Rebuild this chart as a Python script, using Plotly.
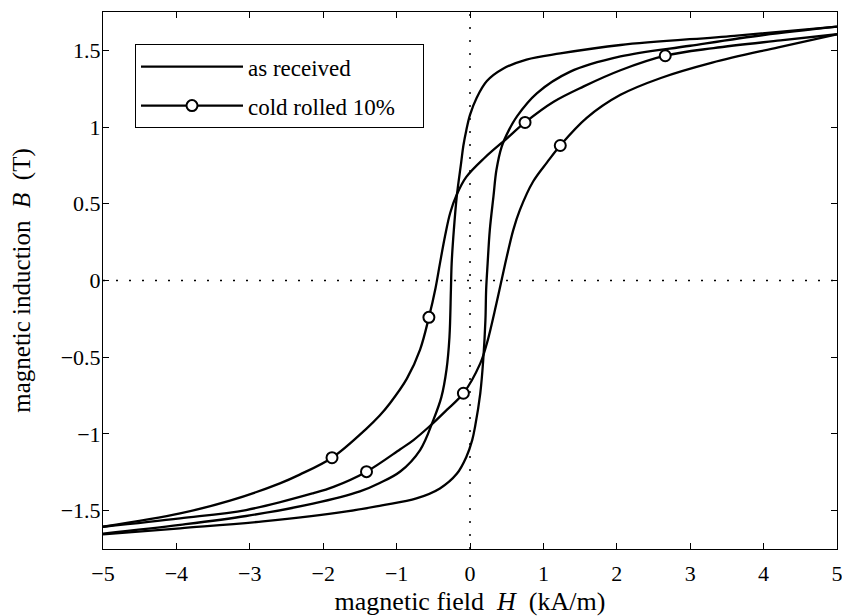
import plotly.graph_objects as go

# ---------------- data ----------------
# as received: descending branch (H from +5 to -5)
ar_desc_H = [5.0, 3.6, 2.05, 1.23, 0.77, 0.45, 0.23, 0.09, 0.0, -0.05, -0.09, -0.12,
             -0.18, -0.22, -0.25, -0.26, -0.28, -0.32, -0.39, -0.5, -0.68, -0.95,
             -1.23, -1.5, -2.14, -3.05, -3.95, -5.0]
ar_desc_B = [1.655, 1.595, 1.535, 1.48, 1.44, 1.38, 1.30, 1.19, 1.08, 0.98, 0.88, 0.77,
             0.55, 0.33, 0.11, -0.06, -0.37, -0.58, -0.76, -0.91, -1.105, -1.245,
             -1.32, -1.375, -1.455, -1.535, -1.593, -1.65]

# as received: ascending branch (H from -5 to +5)
ar_asc_H = [-5.0, -3.95, -2.82, -1.68, -1.2, -0.73, -0.41, -0.18, -0.05, 0.03, 0.07,
            0.14, 0.18, 0.21, 0.22, 0.24, 0.27, 0.32, 0.36, 0.43, 0.53, 0.64, 0.91,
            1.36, 2.05, 3.0, 4.0, 5.0]
ar_asc_B = [-1.655, -1.615, -1.57, -1.505, -1.465, -1.42, -1.355, -1.26, -1.15, -1.04,
            -0.95, -0.735, -0.52, -0.26, -0.06, 0.11, 0.33, 0.55, 0.72, 0.87, 0.98,
            1.07, 1.22, 1.36, 1.46, 1.53, 1.60, 1.655]

# cold rolled 10%: descending branch (H from +5 to -5)
cr_desc_H = [5.0, 4.23, 3.32, 2.66, 2.05, 1.55, 1.14, 0.75, 0.5, 0.2, -0.05, -0.18,
             -0.27, -0.34, -0.41, -0.47, -0.56, -0.68, -0.86, -1.09, -1.23, -1.41,
             -1.88, -2.32, -2.59, -3.27, -3.95, -5.0]
cr_desc_B = [1.605, 1.565, 1.515, 1.465, 1.37, 1.265, 1.165, 1.03, 0.925, 0.80, 0.675, 0.56,
             0.44, 0.29, 0.11, -0.05, -0.24, -0.45, -0.64, -0.80, -0.88, -0.965,
             -1.155, -1.265, -1.322, -1.435, -1.518, -1.605]

# cold rolled 10%: ascending branch (H from -5 to +5)
cr_asc_H = [-5.0, -3.95, -3.05, -2.14, -1.86, -1.41, -0.95, -0.77, -0.55, -0.32, -0.09,
            0.14, 0.23, 0.36, 0.48, 0.59, 0.68, 0.86, 1.05, 1.23, 1.59, 2.05, 2.6, 3.3,
            4.2, 5.0]
cr_asc_B = [-1.605, -1.55, -1.496, -1.387, -1.345, -1.246, -1.10, -1.04, -0.95, -0.845,
            -0.735, -0.54, -0.41, -0.15, 0.11, 0.33, 0.46, 0.645, 0.77, 0.88, 1.06, 1.21,
            1.32, 1.42, 1.52, 1.605]

# marker positions on the cold rolled loop
cr_mark_H = [2.66, 0.75, -0.56, -1.88, 1.23, -0.09, -1.41]
cr_mark_B = [1.465, 1.03, -0.24, -1.155, 0.88, -0.735, -1.246]

x_ticks = [-5, -4, -3, -2, -1, 0, 1, 2, 3, 4, 5]
y_ticks = [-1.5, -1, -0.5, 0, 0.5, 1, 1.5]

series_names = ["as received", "cold rolled 10%"]

# ---------------- figure ----------------
FONT = "Liberation Serif"
LW = 2.3
line_style = dict(color="black", width=LW, shape="spline", smoothing=1.0)
marker_style = dict(symbol="circle", size=11, color="white",
                    line=dict(color="black", width=2))

fig = go.Figure()
for H, B in [(ar_desc_H, ar_desc_B), (ar_asc_H, ar_asc_B),
             (cr_desc_H, cr_desc_B), (cr_asc_H, cr_asc_B)]:
    fig.add_trace(go.Scatter(x=H, y=B, mode="lines", line=line_style,
                             showlegend=False, hoverinfo="skip"))
fig.add_trace(go.Scatter(x=cr_mark_H, y=cr_mark_B, mode="markers",
                         marker=marker_style, showlegend=False, hoverinfo="skip"))

# legend-only entries
fig.add_trace(go.Scatter(x=[None], y=[None], mode="lines", name=series_names[0],
                         line=dict(color="black", width=LW), legendgroup="a"))
fig.add_trace(go.Scatter(x=[None], y=[None], mode="lines+markers",
                         name=series_names[1] + "\u00a0\u00a0\u00a0\u00a0",
                         line=dict(color="black", width=LW), legendgroup="b",
                         marker=marker_style))

# dotted zero lines
dot = dict(color="black", width=1.5, dash="2px,11px")
fig.add_shape(type="line", xref="x", yref="paper", x0=0, x1=0, y0=0, y1=1,
              line=dot, layer="below")
fig.add_shape(type="line", xref="paper", yref="y", x0=0, x1=1, y0=0, y1=0,
              line=dot, layer="below")

axis_common = dict(showline=True, linecolor="black", linewidth=1, mirror="ticks",
                   ticks="inside", ticklen=6, tickwidth=1, tickcolor="black",
                   showgrid=False, zeroline=False, ticklabeloverflow="allow",
                   automargin=False,
                   tickfont=dict(family=FONT, size=22, color="black"))

fig.update_xaxes(range=[-5, 5], tickvals=x_ticks, ticklabelstandoff=5,
                 title=dict(text="magnetic field\u00a0\u00a0<i>H</i>\u00a0\u00a0(kA/m)",
                            font=dict(family=FONT, size=26, color="black"), standoff=8),
                 **axis_common)
fig.update_yaxes(range=[-1.75, 1.75], tickvals=y_ticks, ticklabelstandoff=-3,
                 title=dict(text="magnetic induction\u00a0\u00a0<i>B</i>\u00a0\u00a0(T)",
                            font=dict(family=FONT, size=25, color="black"), standoff=22),
                 **axis_common)

fig.update_layout(
    width=842, height=616,
    margin=dict(l=103, r=5, t=12, b=67),
    paper_bgcolor="white", plot_bgcolor="white",
    font=dict(family=FONT, size=22, color="black"),
    showlegend=True,
    legend=dict(x=0.0436, y=0.94, xanchor="left", yanchor="top",
                bgcolor="white", bordercolor="black", borderwidth=1,
                font=dict(family=FONT, size=23, color="black"),
                tracegroupgap=6, itemwidth=102),
)

fig.write_html("out.html", config={"displayModeBar": False},
               post_script="document.body.style.margin='0';"
                           "document.body.style.overflow='hidden';")
